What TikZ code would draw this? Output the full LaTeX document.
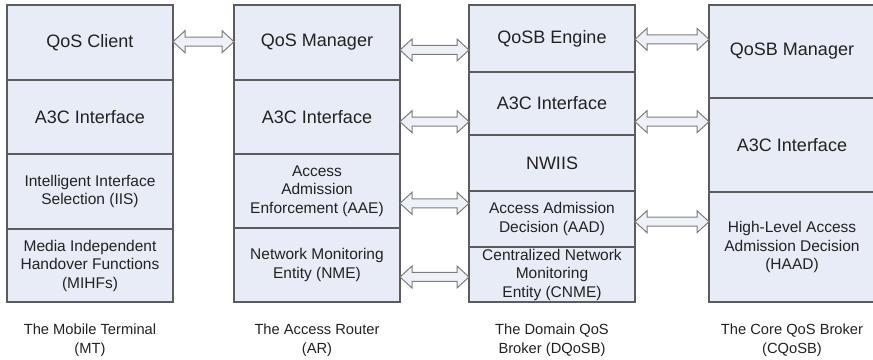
\documentclass[tikz,border=0pt]{standalone}
\usepackage{fontspec}
\setmainfont{Liberation Sans}
\usetikzlibrary{positioning,calc}
\definecolor{cellfill}{RGB}{231,236,246}
\definecolor{cellline}{RGB}{92,92,92}
\definecolor{arrowfill}{RGB}{238,241,248}
\definecolor{arrowline}{RGB}{125,125,125}
\definecolor{inktext}{RGB}{34,34,34}
\tikzset{
    cell/.style = {draw=cellline, fill=cellfill, line width=1.2pt, minimum width=166pt,
                   outer sep=0pt, inner sep=1pt, align=center, text=inktext},
    bigtext/.style = {font=\fontsize{18}{21}\selectfont},
    smalltext/.style = {font=\fontsize{15.5}{18.5}\selectfont},
    caption/.style = {align=center, text=inktext, font=\fontsize{14.7}{19}\selectfont},
    twoway/.style = {draw=arrowline, fill=arrowfill, line width=1pt, line join=miter}
}
\newcommand{\dblarrow}[3]{%
    \draw[twoway] let \p1=(#1.east), \p2=(#2.west) in
        (\x1,#3pt) -- ++(12pt,11pt) -- ++(0,-6.5pt) -- (\x2-12pt,#3pt+4.5pt) -- ++(0,6.5pt)
        -- (\x2,#3pt) -- ++(-12pt,-11pt) -- ++(0,6.5pt) -- (\x1+12pt,#3pt-4.5pt) -- ++(0,-6.5pt) -- cycle;}
\begin{document}
\begin{tikzpicture}[x=1pt,y=1pt]
    \useasboundingbox (0,0) rectangle (873,359);
    \node [cell,bigtext,anchor=north west,minimum height=75pt] (mt1) at (7,354) {QoS Client};
    \node [cell,bigtext,minimum height=74pt,below=0pt of mt1] (mt2) {A3C Interface};
    \node [cell,smalltext,minimum height=75pt,below=0pt of mt2] (mt3) {Intelligent Interface\\Selection (IIS)};
    \node [cell,smalltext,minimum height=73pt,below=0pt of mt3] (mt4) {Media Independent\\Handover Functions\\(MIHFs)};
    \node [caption] (mtcap) at ([yshift=-38pt]mt4.south) {The Mobile Terminal\\(MT)};

    \node [cell,bigtext,anchor=north west,minimum height=75pt] (ar1) at (234,354) {QoS Manager};
    \node [cell,bigtext,minimum height=74pt,below=0pt of ar1] (ar2) {A3C Interface};
    \node [cell,smalltext,minimum height=74pt,below=0pt of ar2] (ar3) {Access\\Admission\\Enforcement (AAE)};
    \node [cell,smalltext,minimum height=74pt,below=0pt of ar3] (ar4) {Network Monitoring\\Entity (NME)};
    \node [caption] (arcap) at ([yshift=-38pt]ar4.south) {The Access Router\\(AR)};

    \node [cell,bigtext,anchor=north west,minimum height=67pt] (dq1) at (469,354) {QoSB Engine};
    \node [cell,bigtext,minimum height=63pt,below=0pt of dq1] (dq2) {A3C Interface};
    \node [cell,bigtext,minimum height=56pt,below=0pt of dq2] (dq3) {NWIIS};
    \node [cell,smalltext,minimum height=56pt,below=0pt of dq3] (dq4) {Access Admission\\Decision (AAD)};
    \node [cell,smalltext,minimum height=55pt,below=0pt of dq4] (dq5) {Centralized Network\\Monitoring\\Entity (CNME)};
    \node [caption] (dqcap) at ([yshift=-38pt]dq5.south) {The Domain QoS\\Broker (DQoSB)};

    \node [cell,bigtext,anchor=north west,minimum height=93pt] (cq1) at (709,354) {QoSB Manager};
    \node [cell,bigtext,minimum height=94pt,below=0pt of cq1] (cq2) {A3C Interface};
    \node [cell,smalltext,minimum height=110pt,below=0pt of cq2] (cq3) {High-Level Access\\Admission Decision\\(HAAD)};
    \node [caption] (cqcap) at ([yshift=-38pt]cq3.south) {The Core QoS Broker\\(CQoSB)};

    \dblarrow{mt1}{ar1}{317.3}
    \dblarrow{ar1}{dq1}{309}
    \dblarrow{ar2}{dq2}{237.3}
    \dblarrow{ar3}{dq4}{155.7}
    \dblarrow{ar4}{dq5}{82}
    \dblarrow{dq1}{cq1}{319.7}
    \dblarrow{dq2}{cq2}{237.3}
    \dblarrow{dq4}{cq3}{137.3}
\end{tikzpicture}
\end{document}
